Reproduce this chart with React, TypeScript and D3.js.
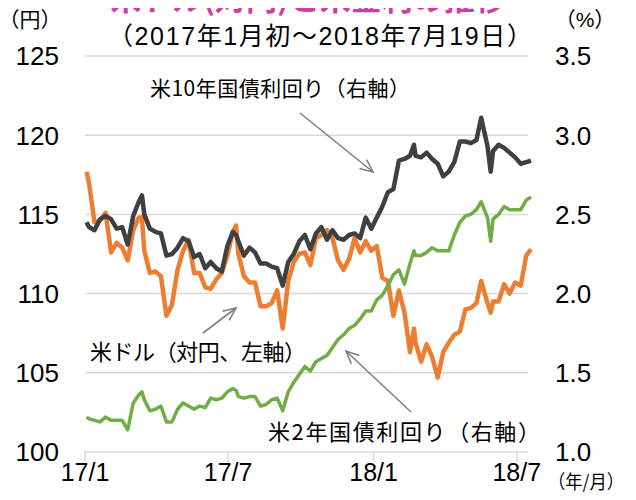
import React from "react";
import * as d3 from "d3";

const dates = [
  "2017-01-03", "2017-01-06", "2017-01-13", "2017-01-20", "2017-01-27",
  "2017-02-03", "2017-02-10", "2017-02-17", "2017-02-24", "2017-03-03",
  "2017-03-10", "2017-03-14", "2017-03-17", "2017-03-24", "2017-03-31",
  "2017-04-07", "2017-04-14", "2017-04-21", "2017-04-28", "2017-05-05",
  "2017-05-12", "2017-05-19", "2017-05-26", "2017-06-02", "2017-06-09",
  "2017-06-16", "2017-06-23", "2017-06-30", "2017-07-07", "2017-07-11",
  "2017-07-14", "2017-07-21", "2017-07-28", "2017-08-04", "2017-08-11",
  "2017-08-18", "2017-08-25", "2017-09-01", "2017-09-08", "2017-09-15",
  "2017-09-22", "2017-09-29", "2017-10-06", "2017-10-13", "2017-10-20",
  "2017-10-27", "2017-11-03", "2017-11-10", "2017-11-17", "2017-11-24",
  "2017-12-01", "2017-12-08", "2017-12-15", "2017-12-22", "2017-12-29",
  "2018-01-05", "2018-01-12", "2018-01-19", "2018-01-26", "2018-02-02",
  "2018-02-09", "2018-02-16", "2018-02-21", "2018-02-23", "2018-03-02",
  "2018-03-09", "2018-03-16", "2018-03-23", "2018-03-30", "2018-04-06",
  "2018-04-13", "2018-04-20", "2018-04-27", "2018-05-04", "2018-05-11",
  "2018-05-17", "2018-05-25", "2018-05-29", "2018-06-01", "2018-06-08",
  "2018-06-15", "2018-06-22", "2018-06-29", "2018-07-06", "2018-07-13",
  "2018-07-19",
];

// 米ドル（対円）
const usdjpy = [
  117.7, 117.0, 114.5, 114.6, 115.1,
  112.6, 113.2, 112.9, 112.1, 114.0,
  114.8, 114.8, 112.7, 111.3, 111.4,
  111.1, 108.6, 109.3, 111.5, 112.7,
  113.4, 111.3, 111.3, 110.4, 110.3,
  110.9, 111.3, 112.4, 113.9, 114.3,
  112.5, 111.1, 110.7, 110.7, 109.2,
  109.2, 109.4, 110.2, 107.8, 110.8,
  112.0, 112.5, 112.6, 111.8, 113.5,
  113.7, 114.0, 113.5, 112.1, 111.5,
  112.2, 113.5, 112.6, 113.3, 112.7,
  113.0, 111.0, 110.8, 108.6, 110.2,
  108.8, 106.3, 107.8, 106.9, 105.7,
  106.8, 106.0, 104.7, 106.3, 106.9,
  107.4, 107.6, 109.0, 109.1, 109.4,
  110.8, 109.4, 108.8, 109.5, 109.5,
  110.6, 110.0, 110.7, 110.5, 112.4,
  112.8,
];

// 米10年国債利回り
const us10y = [
  2.45, 2.42, 2.40, 2.47, 2.49,
  2.47, 2.41, 2.42, 2.31, 2.49,
  2.58, 2.62, 2.50, 2.41, 2.39,
  2.38, 2.24, 2.25, 2.29, 2.35,
  2.33, 2.23, 2.25, 2.16, 2.20,
  2.16, 2.14, 2.30, 2.39, 2.37,
  2.33, 2.24, 2.29, 2.26, 2.19,
  2.19, 2.17, 2.16, 2.05, 2.20,
  2.25, 2.33, 2.37, 2.28, 2.38,
  2.42, 2.34, 2.40, 2.35, 2.34,
  2.37, 2.38, 2.35, 2.48, 2.41,
  2.48, 2.55, 2.64, 2.66, 2.84,
  2.85, 2.87, 2.94, 2.87, 2.86,
  2.89, 2.85, 2.82, 2.74, 2.77,
  2.83, 2.96, 2.96, 2.95, 2.97,
  3.11, 2.93, 2.77, 2.90, 2.94,
  2.92, 2.89, 2.86, 2.82, 2.83,
  2.84,
];

// 米2年国債利回り
const us2y = [
  1.22, 1.21, 1.20, 1.19, 1.22,
  1.20, 1.20, 1.20, 1.14, 1.31,
  1.36, 1.38, 1.33, 1.26, 1.27,
  1.29, 1.19, 1.19, 1.27, 1.31,
  1.29, 1.27, 1.29, 1.28, 1.34,
  1.33, 1.34, 1.38, 1.40, 1.39,
  1.35, 1.34, 1.35, 1.35, 1.29,
  1.30, 1.33, 1.34, 1.26, 1.38,
  1.44, 1.49, 1.54, 1.51, 1.57,
  1.59, 1.61, 1.66, 1.71, 1.74,
  1.78, 1.80, 1.84, 1.89, 1.89,
  1.96, 1.99, 2.05, 2.12, 2.15,
  2.06, 2.19, 2.27, 2.24, 2.24,
  2.26, 2.29, 2.27, 2.27, 2.27,
  2.37, 2.45, 2.49, 2.50, 2.53,
  2.58, 2.48, 2.33, 2.47, 2.50,
  2.55, 2.53, 2.53, 2.53, 2.59,
  2.61,
];

const yenTicks = [100, 105, 110, 115, 120, 125];
const rateTicks = ["1.0", "1.5", "2.0", "2.5", "3.0", "3.5"];
const xTicks = ["2017-01-01", "2017-07-01", "2018-01-01", "2018-07-01"];
const xTickLabels = ["17/1", "17/7", "18/1", "18/7"];

const parse = d3.timeParse("%Y-%m-%d");
const FONT = "'Liberation Sans', Arial, 'Noto Sans CJK JP', sans-serif";
const JP = "'Noto Sans CJK JP', 'Liberation Sans', sans-serif";

function Arrow({ x1, y1, x2, y2 }: { x1: number; y1: number; x2: number; y2: number }) {
  const a = Math.atan2(y2 - y1, x2 - x1);
  const len = 14;
  const spread = 0.42;
  const p1 = [x2 - len * Math.cos(a - spread), y2 - len * Math.sin(a - spread)];
  const p2 = [x2 - len * Math.cos(a + spread), y2 - len * Math.sin(a + spread)];
  return (
    <g stroke="#808080" strokeWidth={1.6} fill="none">
      <line x1={x1} y1={y1} x2={x2} y2={y2} />
      <polyline points={`${p1[0]},${p1[1]} ${x2},${y2} ${p2[0]},${p2[1]}`} />
    </g>
  );
}

export default function App() {
  const W = 636;
  const H = 500;

  const x = d3
    .scaleTime()
    .domain([parse("2017-01-01")!, parse("2018-07-19")!])
    .range([85, 531]);
  const yL = d3.scaleLinear().domain([100, 125]).range([452, 56]);
  const yR = d3.scaleLinear().domain([1.0, 3.5]).range([452, 56]);

  const pts = dates.map((d) => parse(d)!);

  const lineL = d3
    .line<number>()
    .x((_, i) => x(pts[i]))
    .y((d) => yL(d));
  const lineR = d3
    .line<number>()
    .x((_, i) => x(pts[i]))
    .y((d) => yR(d));

  return (
    <svg width={W} height={H} style={{ display: "block", margin: -8 }}>
      <rect width={W} height={H} fill="#fff" />

      {/* title, cut off at the top as in the original */}
      <text
        x={308}
        y={10}
        textAnchor="middle"
        fontFamily={JP}
        fontWeight="bold"
        fontSize={31}
        fill="#d43a9f"
      >
        米ドル(対円)と米金利の推移
      </text>
      <text
        x={108}
        y={45}
        fontFamily={FONT}
        fontSize={25}
        fill="#000"
        textLength={424}
        lengthAdjust="spacing"
      >
        （2017年1月初～2018年7月19日）
      </text>
      <text x={30} y={27} textAnchor="middle" fontFamily={JP} fontSize={21} fill="#000">
        （円）
      </text>
      <text x={585} y={27} textAnchor="middle" fontFamily={FONT} fontSize={21} fill="#000">
        （%）
      </text>

      {/* gridlines */}
      {yenTicks.map((t) => (
        <line
          key={t}
          x1={85}
          x2={528}
          y1={yL(t)}
          y2={yL(t)}
          stroke="#d9d9d9"
          strokeWidth={1.5}
        />
      ))}
      {xTicks.map((t) => (
        <line
          key={t}
          x1={x(parse(t)!)}
          x2={x(parse(t)!)}
          y1={452}
          y2={462}
          stroke="#d9d9d9"
          strokeWidth={1.5}
        />
      ))}

      {/* left axis */}
      {yenTicks.map((t) => (
        <text
          key={t}
          x={59}
          y={yL(t)}
          dy="0.36em"
          textAnchor="end"
          fontFamily={FONT}
          fontSize={26}
          fill="#000"
        >
          {t}
        </text>
      ))}
      {/* right axis */}
      {rateTicks.map((t) => (
        <text
          key={t}
          x={555}
          y={yR(+t)}
          dy="0.36em"
          textAnchor="start"
          fontFamily={FONT}
          fontSize={26}
          fill="#000"
        >
          {t}
        </text>
      ))}
      {/* x axis */}
      {xTicks.map((t, i) => (
        <text
          key={t}
          x={x(parse(t)!)}
          y={481}
          textAnchor="middle"
          fontFamily={FONT}
          fontSize={25}
          fill="#000"
        >
          {xTickLabels[i]}
        </text>
      ))}
      <text
        x={548}
        y={489}
        fontFamily={JP}
        fontSize={19}
        fill="#000"
        textLength={76}
        lengthAdjust="spacingAndGlyphs"
      >
        （年/月）
      </text>

      {/* series */}
      <path d={lineL(usdjpy) || ""} fill="none" stroke="#ed7d31" strokeWidth={4.5} strokeLinejoin="round" />
      <path d={lineR(us10y) || ""} fill="none" stroke="#404040" strokeWidth={4.5} strokeLinejoin="round" />
      <path d={lineR(us2y) || ""} fill="none" stroke="#70ad47" strokeWidth={3.5} strokeLinejoin="round" />

      {/* annotations */}
      <text x={150} y={96} fontFamily={JP} fontSize={21} fill="#000" textLength={260} lengthAdjust="spacing">
        米10年国債利回り（右軸）
      </text>
      <Arrow x1={300} y1={113} x2={373} y2={172} />

      <text x={90} y={360} fontFamily={JP} fontSize={22} fill="#000" textLength={216} lengthAdjust="spacing">
        米ドル（対円、左軸）
      </text>
      <Arrow x1={203} y1={333} x2={236} y2={308} />

      <text x={268} y={440} fontFamily={JP} fontSize={22} fill="#000" textLength={272} lengthAdjust="spacing">
        米2年国債利回り（右軸）
      </text>
      <Arrow x1={411} y1={412} x2={346} y2={351} />
    </svg>
  );
}
